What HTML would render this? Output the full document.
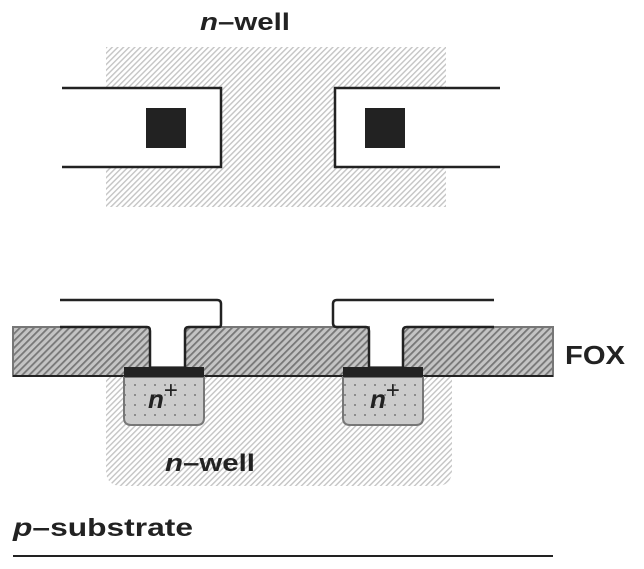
<!DOCTYPE html>
<html><head><style>
body{margin:0;background:#fff}
svg text{font-family:"Liberation Sans",sans-serif;font-weight:bold;fill:#222}
</style></head><body>
<svg width="644" height="564" viewBox="0 0 644 564" xmlns="http://www.w3.org/2000/svg">
<defs>
<pattern id="lh" width="4" height="4" patternUnits="userSpaceOnUse" patternTransform="rotate(45)">
<rect width="4" height="4" fill="#fff"/><rect width="1.4" height="4" fill="#c4c4c4"/></pattern>
<pattern id="fh" width="5" height="5" patternUnits="userSpaceOnUse" patternTransform="rotate(45)">
<rect width="5" height="5" fill="#c4c4c4"/><rect width="1.8" height="5" fill="#777"/></pattern>
<pattern id="dots" width="10" height="10" patternUnits="userSpaceOnUse">
<rect width="10" height="10" fill="#ccc"/><circle cx="5" cy="5" r="1" fill="#777"/></pattern>
</defs>
<text x="200" y="30" font-size="24" textLength="90" lengthAdjust="spacingAndGlyphs"><tspan font-style="italic">n</tspan>–well</text>
<rect x="106" y="47" width="340" height="160" fill="url(#lh)"/>
<path d="M62 88 H221 V167 H62" fill="#fff" stroke="#222" stroke-width="2.5"/>
<rect x="146" y="108" width="40" height="40" fill="#222"/>
<path d="M500 88 H335 V167 H500" fill="#fff" stroke="#222" stroke-width="2.5"/>
<rect x="365" y="108" width="40" height="40" fill="#222"/>
<path d="M106 376 H452 V470 Q452 486 436 486 H122 Q106 486 106 470 Z" fill="url(#lh)"/>
<path d="M13 327 H148 Q150 327 150 330 V367 H185 V330 Q185 327 188 327 H369 V367 H403 V330 Q403 327 406 327 H553 V376 H13 Z" fill="url(#fh)" stroke="#777" stroke-width="2"/>
<line x1="13" y1="376" x2="553" y2="376" stroke="#222" stroke-width="2"/>
<path d="M124 377 H204 V418 Q204 425 197 425 H131 Q124 425 124 418 Z" fill="url(#dots)" stroke="#777" stroke-width="2"/>
<path d="M343 377 H423 V418 Q423 425 416 425 H350 Q343 425 343 418 Z" fill="url(#dots)" stroke="#777" stroke-width="2"/>
<rect x="124" y="367" width="80" height="10" fill="#222"/>
<rect x="343" y="367" width="80" height="10" fill="#222"/>
<path d="M60 327 H147 Q150 327 150 331 V367 M185 367 V331 Q185 327 189 327 H219 Q221 327 221 324 V304 Q221 300 217 300 H60" fill="none" stroke="#222" stroke-width="2.5"/>
<path d="M494 300 H337 Q333 300 333 304 V323 Q333 327 337 327 H366 Q369 327 369 331 V367 M403 367 V331 Q403 327 407 327 H494" fill="none" stroke="#222" stroke-width="2.5"/>
<text x="148" y="408" font-size="26"><tspan font-style="italic">n</tspan><tspan font-weight="normal" dy="-10" font-size="24">+</tspan></text>
<text x="370" y="408" font-size="26"><tspan font-style="italic">n</tspan><tspan font-weight="normal" dy="-10" font-size="24">+</tspan></text>
<text x="165" y="471" font-size="24" textLength="90" lengthAdjust="spacingAndGlyphs"><tspan font-style="italic">n</tspan>–well</text>
<text x="565" y="364" font-size="26" textLength="60" lengthAdjust="spacingAndGlyphs">FOX</text>
<text x="13" y="536" font-size="25" textLength="180" lengthAdjust="spacingAndGlyphs"><tspan font-style="italic">p</tspan>–substrate</text>
<line x1="13" y1="556" x2="553" y2="556" stroke="#222" stroke-width="2"/>
</svg>
</body></html>
